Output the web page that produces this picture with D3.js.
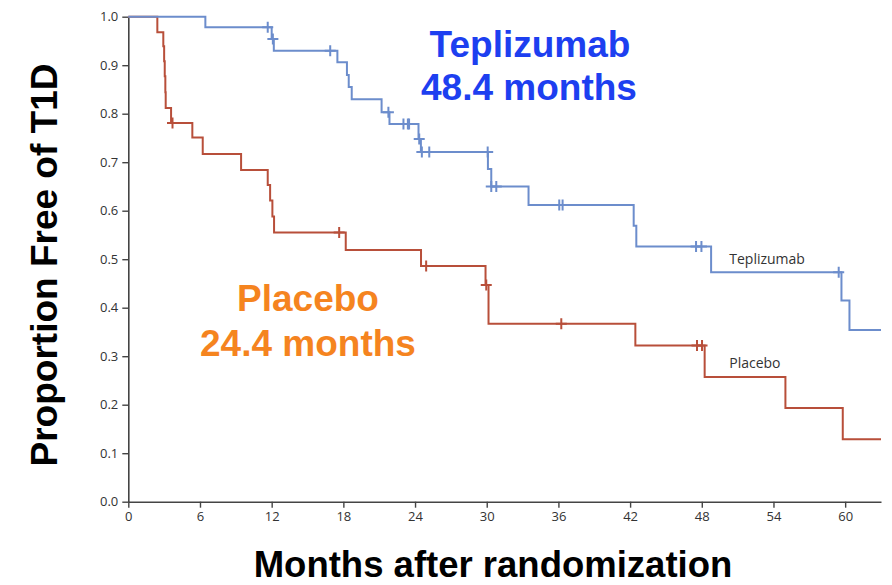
<!DOCTYPE html>
<html>
<head>
<meta charset="utf-8">
<script src="https://cdn.jsdelivr.net/npm/d3@7/dist/d3.min.js"></script>
<style>
  html, body { margin: 0; padding: 0; background: #fff; }
  svg { display: block; }
</style>
</head>
<body>
<div id="chart"></div>
<script>
// Kaplan–Meier step data: event times (months) and survival after each event
const teplizumabTimes = [0, 6.45, 12.0, 12.18, 17.5, 18.3, 18.45, 18.7, 21.2, 21.86, 24.29, 24.49, 30.1, 30.38, 33.5, 42.3, 42.52, 48.78, 59.69, 60.36];
const teplizumabSurv  = [1.0, 0.978, 0.954, 0.930, 0.906, 0.880, 0.855, 0.830, 0.803, 0.779, 0.748, 0.721, 0.686, 0.650, 0.612, 0.569, 0.526, 0.473, 0.415, 0.354];
const teplizumabCensorTimes = [11.67, 12.1, 16.9, 21.77, 23.03, 23.4, 23.5, 24.35, 24.57, 25.19, 30.08, 30.38, 30.8, 36.07, 36.35, 47.52, 47.97, 59.46];

const placeboTimes = [0, 2.43, 2.93, 3.0, 3.05, 3.1, 3.13, 3.58, 5.36, 6.23, 9.44, 11.67, 11.87, 12.06, 12.2, 18.2, 24.5, 29.9, 30.15, 42.44, 48.24, 55.0, 59.8];
const placeboSurv  = [1.0, 0.968, 0.939, 0.908, 0.877, 0.844, 0.812, 0.781, 0.751, 0.717, 0.684, 0.653, 0.621, 0.588, 0.555, 0.519, 0.486, 0.447, 0.367, 0.322, 0.257, 0.193, 0.129];
const placeboCensorTimes = [3.7, 17.65, 24.93, 29.96, 36.24, 47.6, 48.02];

const followUpEnd = 63;

const xTicks = [0, 6, 12, 18, 24, 30, 36, 42, 48, 54, 60];
const yTicks = [0, 0.1, 0.2, 0.3, 0.4, 0.5, 0.6, 0.7, 0.8, 0.9, 1.0];

const W = 892, H = 585;
const margin = { left: 128.3, top: 16.7, right: 11, bottom: 83.3 };

const svg = d3.select("#chart").append("svg")
  .attr("width", W).attr("height", H);

const x = d3.scaleLinear().domain([0, followUpEnd]).range([margin.left, W - margin.right]);
const y = d3.scaleLinear().domain([0, 1]).range([H - margin.bottom, margin.top]);

// Axes
const axisFont = "'Open Sans', 'DejaVu Sans', sans-serif";
const gx = svg.append("g")
  .attr("transform", `translate(0,${y(0)})`)
  .call(d3.axisBottom(x).tickValues(xTicks).tickSize(6).tickSizeOuter(0).tickPadding(4).tickFormat(d3.format("d")));
const gy = svg.append("g")
  .attr("transform", `translate(${x(0)},0)`)
  .call(d3.axisLeft(y).tickValues(yTicks).tickSize(6).tickSizeOuter(0).tickPadding(4).tickFormat(d3.format(".1f")));

[gx, gy].forEach(g => {
  g.select(".domain").attr("stroke", "#444").attr("stroke-width", 1.6);
  g.selectAll(".tick line").attr("stroke", "#444").attr("stroke-width", 1.4);
  g.selectAll(".tick text").attr("fill", "#333").style("font-family", axisFont).style("font-size", "13px");
});

// Step curve builder
function stepPoints(times, surv) {
  const pts = times.map((t, i) => [t, surv[i]]);
  pts.push([followUpEnd, surv[surv.length - 1]]);
  return pts;
}
function survAt(times, surv, t) {
  let s = surv[0];
  for (let i = 0; i < times.length; i++) if (times[i] <= t) s = surv[i];
  return s;
}
const line = d3.line().x(d => x(d[0])).y(d => y(d[1])).curve(d3.curveStepAfter);

const groups = [
  { name: "Placebo", times: placeboTimes, surv: placeboSurv, censor: placeboCensorTimes, color: "#b84f3a" },
  { name: "Teplizumab", times: teplizumabTimes, surv: teplizumabSurv, censor: teplizumabCensorTimes, color: "#6c8dcc" }
];

groups.forEach(g => {
  svg.append("path")
    .datum(stepPoints(g.times, g.surv))
    .attr("d", line)
    .attr("fill", "none")
    .attr("stroke", g.color)
    .attr("stroke-width", 2);

  // censoring marks drawn as small crosses
  const arm = 5.5;
  svg.append("g").selectAll("path")
    .data(g.censor)
    .join("path")
    .attr("d", t => {
      const cx = x(t), cy = y(survAt(g.times, g.surv, t));
      return `M${cx - arm},${cy}H${cx + arm}M${cx},${cy - arm}V${cy + arm}`;
    })
    .attr("stroke", g.color)
    .attr("stroke-width", 2)
    .attr("fill", "none");
});

// Curve labels
svg.append("text").attr("x", x(50.3)).attr("y", y(0.49))
  .text("Teplizumab")
  .attr("fill", "#333").style("font-family", axisFont).style("font-size", "14px");
svg.append("text").attr("x", x(50.3)).attr("y", y(0.275))
  .text("Placebo")
  .attr("fill", "#333").style("font-family", axisFont).style("font-size", "14px");

// Median annotations
const bigFont = "'Liberation Sans', Arial, sans-serif";
function bigText(tx, ty, str, color) {
  svg.append("text").attr("x", tx).attr("y", ty).attr("text-anchor", "middle")
    .text(str).attr("fill", color)
    .style("font-family", bigFont).style("font-weight", "bold").style("font-size", "37px");
}
bigText(530, 57, "Teplizumab", "#1d3ff0");
bigText(529, 100, "48.4 months", "#1d3ff0");
bigText(308, 311, "Placebo", "#f5841f");
bigText(308, 356, "24.4 months", "#f5841f");

// Axis titles
svg.append("text")
  .attr("transform", `translate(57,${265}) rotate(-90)`)
  .attr("text-anchor", "middle")
  .text("Proportion Free of T1D")
  .attr("fill", "#000").style("font-family", bigFont).style("font-weight", "bold").style("font-size", "37px");
svg.append("text")
  .attr("x", 493).attr("y", 577).attr("text-anchor", "middle")
  .text("Months after randomization")
  .attr("fill", "#000").style("font-family", bigFont).style("font-weight", "bold").style("font-size", "36.5px");
</script>
</body>
</html>
